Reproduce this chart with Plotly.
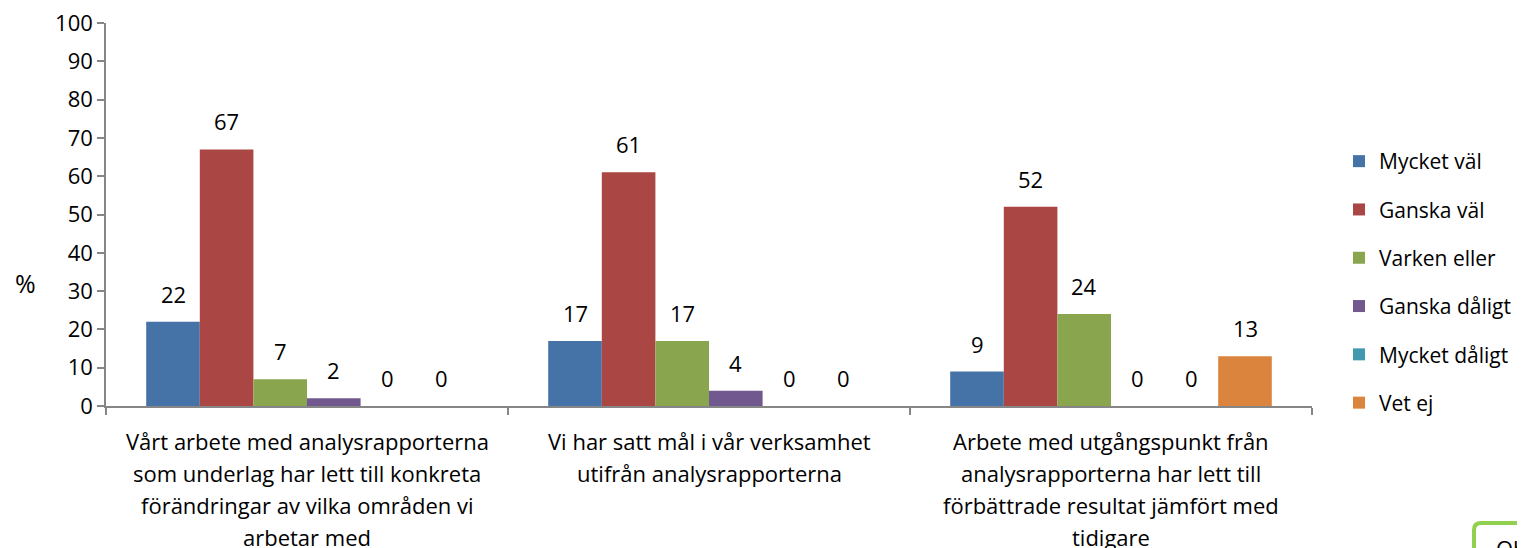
import plotly.graph_objects as go

categories = [
    "Vårt arbete med analysrapporterna<br>som underlag har lett till konkreta<br>förändringar av vilka områden vi<br>arbetar med",
    "Vi har satt mål i vår verksamhet<br>utifrån analysrapporterna",
    "Arbete med utgångspunkt från<br>analysrapporterna har lett till<br>förbättrade resultat jämfört med<br>tidigare",
]
series_names = ["Mycket väl", "Ganska väl", "Varken eller", "Ganska dåligt", "Mycket dåligt", "Vet ej"]
mycket_val = [22, 17, 9]
ganska_val = [67, 61, 52]
varken_eller = [7, 17, 24]
ganska_daligt = [2, 4, 0]
mycket_daligt = [0, 0, 0]
vet_ej = [0, 0, 13]
series_values = [mycket_val, ganska_val, varken_eller, ganska_daligt, mycket_daligt, vet_ej]
colors = ["#4572A7", "#AA4643", "#89A54E", "#71588F", "#4198AF", "#DB843D"]
y_ticks = [0, 10, 20, 30, 40, 50, 60, 70, 80, 90, 100]

FONT = "Open Sans"
FS = 22
bargap = 0.2
nser = len(series_names)
bw = (1 - bargap) / nser

# page is offset by 8px body margin
W, H = 1517, 540
L, T, PW, PH = 98, 15, 1206, 383
R = W - L - PW
B = H - T - PH


def px_to_paper_x(px):
    return (px - 8 - L) / PW


def px_to_paper_y(py):
    return (T + PH - (py - 8)) / PH


fig = go.Figure()
xs = list(range(len(categories)))
for j, (name, vals, col) in enumerate(zip(series_names, series_values, colors)):
    fig.add_trace(go.Bar(
        x=xs, y=vals, name=name, marker=dict(color=col, line=dict(width=0)),
        legendgroup=name,
    ))

annotations = []
for j, vals in enumerate(series_values):
    for i, v in enumerate(vals):
        annotations.append(dict(
            x=i + (j - (nser - 1) / 2) * bw, y=v, xref="x", yref="y",
            text=str(v), showarrow=False, yanchor="bottom", yshift=11,
            font=dict(family=FONT, size=FS, color="#000"),
        ))

line_gap = 32
for i, cat in enumerate(categories):
    for k, line in enumerate(cat.split("<br>")):
        annotations.append(dict(
            x=i, y=0, xref="x", yref="paper", text=line, showarrow=False,
            yanchor="middle", yshift=-(35 + k * line_gap),
            font=dict(family=FONT, size=FS, color="#000"),
        ))

annotations.append(dict(
    x=px_to_paper_x(25), y=px_to_paper_y(283), xref="paper", yref="paper",
    text="%", showarrow=False, xanchor="center", yanchor="middle",
    font=dict(family=FONT, size=25, color="#000"),
))
annotations.append(dict(
    x=px_to_paper_x(1494), y=px_to_paper_y(548), xref="paper", yref="paper",
    text="Ob", showarrow=False, xanchor="left", yanchor="middle",
    font=dict(family=FONT, size=22, color="#000"),
))

fig.update_layout(
    width=W, height=H,
    margin=dict(l=L, r=R, t=T, b=B, autoexpand=False),
    paper_bgcolor="white", plot_bgcolor="white",
    barmode="group", bargap=bargap, bargroupgap=0,
    font=dict(family=FONT, size=FS, color="#000"),
    showlegend=True,
    legend=dict(
        x=px_to_paper_x(1339), y=px_to_paper_y(141), xanchor="left", yanchor="top",
        font=dict(family=FONT, size=21, color="#000"),
        tracegroupgap=18, itemwidth=30,
    ),
    annotations=annotations,
    shapes=[dict(
        type="path", xref="paper", yref="paper",
        path="M {x0},{y1} L {x0},{y0} Q {x0},{yt} {xc},{yt} L {x1},{yt}".format(
            x0=px_to_paper_x(1474), y0=px_to_paper_y(530), yt=px_to_paper_y(523),
            xc=px_to_paper_x(1481), x1=px_to_paper_x(1540), y1=px_to_paper_y(560)),
        line=dict(color="#92D050", width=4),
    )],
)
fig.update_xaxes(
    type="linear", range=[-0.5, 2.5], showgrid=False, zeroline=False,
    showline=True, linecolor="#868686", linewidth=1.5,
    tickvals=[-0.5, 0.5, 1.5, 2.5], ticktext=["", "", "", ""],
    ticks="outside", ticklen=7, tickcolor="#868686", tickwidth=1.5,
)
fig.update_yaxes(
    range=[0, 100], tickvals=y_ticks, showgrid=False, zeroline=False,
    showline=True, linecolor="#868686", linewidth=1.5,
    ticks="outside", ticklen=7, tickcolor="#868686", tickwidth=1.5,
    tickfont=dict(family=FONT, size=FS, color="#000"),
    ticklabeloverflow="allow",
)
fig.write_html("out.html")
